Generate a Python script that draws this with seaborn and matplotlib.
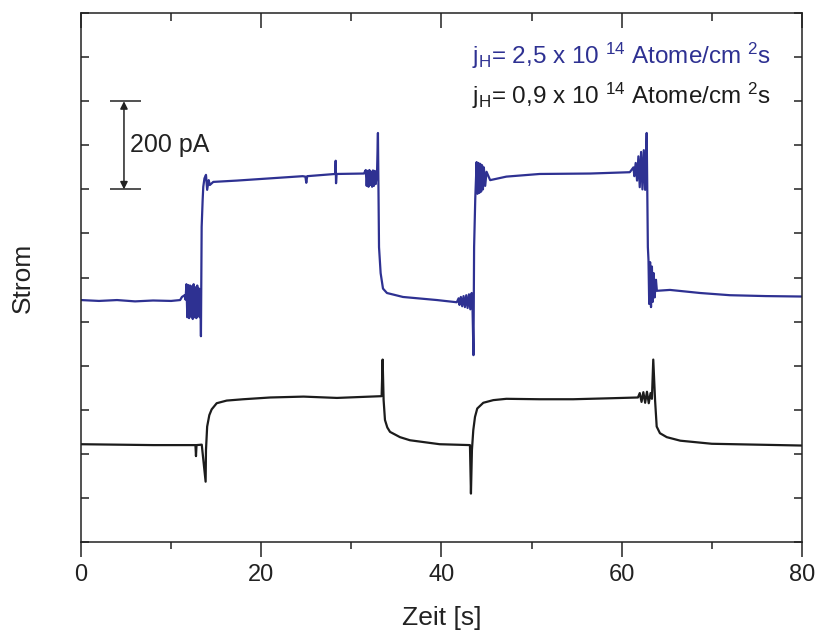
import matplotlib
matplotlib.use("Agg")
import matplotlib.pyplot as plt
from matplotlib.ticker import MultipleLocator
import numpy as np
import pandas as pd
import seaborn as sns

# ---- measured current traces (time in s, current in pA) ----
t_high = [0.0, 2.0, 4.0, 6.0, 8.0, 10.0, 11.0, 11.2, 11.5, 11.6,
          11.7, 11.8, 11.9, 12.0, 12.1, 12.2, 12.3, 12.4, 12.5, 12.6,
          12.7, 12.8, 12.9, 13.0, 13.1, 13.2, 13.28,
          13.31, 13.39, 13.5, 13.57, 13.7, 13.87, 14.0, 14.17, 14.3, 14.68,
          17.3, 21.0, 24.6, 24.9, 25.0, 25.1, 28.2, 28.26, 28.3, 28.36, 31.4,
          31.6, 31.7, 31.8, 31.9, 32.0, 32.1, 32.2, 32.3, 32.4, 32.5, 32.6,
          32.7, 32.85,
          32.95, 33.07, 33.25, 33.51, 33.95, 35.73, 39.5, 41.7,
          41.9, 42.0, 42.15, 42.3, 42.45, 42.6, 42.75, 42.9, 43.05, 43.2,
          43.35, 43.45,
          43.55, 43.62, 43.75, 43.9, 44.0, 44.1, 44.2, 44.3, 44.4, 44.5,
          44.6, 44.7, 44.85, 45.0, 45.4, 47.2, 50.9, 56.5, 60.9,
          61.3, 61.4, 61.55, 61.7, 61.85, 62.0, 62.15, 62.3, 62.45, 62.6, 62.7,
          62.77, 62.9,
          62.97, 63.05, 63.15, 63.25, 63.35, 63.45, 63.55, 63.65, 63.8, 63.9,
          65.35, 68.7, 72.0, 76.0, 80.0]
i_high = [549, 547, 549, 546, 548, 547, 549, 556, 560, 550,
          585, 510, 583, 508, 582, 512, 580, 506, 585, 510,
          578, 508, 582, 512, 575, 510, 520,
          467, 715, 776, 806, 825, 833, 799, 821, 810, 817,
          820, 825, 830, 829, 815, 830, 835, 865, 814, 835, 836,
          844, 808, 842, 806, 844, 810, 840, 806, 843, 808, 842,
          812, 838,
          928, 669, 610, 575, 565, 556, 549, 544,
          553, 538, 556, 535, 558, 533, 560, 531, 562, 528,
          565, 526,
          424, 669, 780, 862, 790, 860, 792, 858, 795, 855,
          800, 850, 808, 840, 821, 829, 835, 836, 839,
          850, 830, 860, 820, 875, 805, 885, 800, 889, 799, 880,
          928, 669,
          640, 540, 635, 533, 625, 545, 610, 555, 595, 570,
          572, 565, 560, 558, 557]

t_low = [0.0, 4.0, 8.0, 12.7, 12.76, 12.82, 13.4,
         13.83, 13.87, 14.0, 14.24, 14.5, 15.06, 16.17, 18.0, 21.0, 24.7,
         28.4, 32.1, 33.36,
         33.47, 33.58, 33.73, 33.99, 34.29, 35.4, 36.5, 39.8, 43.16,
         43.27, 43.38, 43.53, 43.72, 43.97, 44.64, 45.75, 47.2, 50.9, 54.6,
         58.3, 61.8,
         62.0, 62.2, 62.4, 62.6, 62.8, 63.0, 63.2, 63.35,
         63.5, 63.7, 63.88, 64.24, 65.0, 66.5, 70.0, 75.0, 80.0]
i_low = [222, 221, 220, 220, 195, 220, 221,
         137, 209, 262, 288, 301, 315, 321, 324, 328, 330,
         327, 330, 331,
         414, 322, 277, 260, 250, 238, 231, 222, 220,
         110, 209, 254, 284, 303, 316, 322, 325, 324, 324,
         326, 328,
         338, 318, 340, 316, 341, 315, 338, 325,
         414, 322, 262, 247, 238, 230, 223, 221, 219]

series_names = ["2,5", "0,9"]
series_colors = ["#2e3192", "#1c1c1c"]

x_ticks = [0, 20, 40, 60, 80]
y_ticks = list(range(0, 1201, 100))

df = pd.concat([
    pd.DataFrame({"Zeit": t_high, "Strom": i_high, "Fluss": series_names[0]}),
    pd.DataFrame({"Zeit": t_low, "Strom": i_low, "Fluss": series_names[1]}),
], ignore_index=True)

sns.set_theme(style="ticks")
plt.rcParams["font.family"] = ["Liberation Sans", "DejaVu Sans"]
plt.rcParams["mathtext.fontset"] = "custom"
plt.rcParams["mathtext.rm"] = "Liberation Sans"
plt.rcParams["mathtext.it"] = "Liberation Sans"
plt.rcParams["mathtext.bf"] = "Liberation Sans"
ink = "#222222"

fig = plt.figure(figsize=(8.18, 6.37), dpi=100)
ax = fig.add_axes([0.099, 0.149, 0.8814, 0.8305])

sns.lineplot(data=df, x="Zeit", y="Strom", hue="Fluss",
             palette=dict(zip(series_names, series_colors)),
             sort=False, estimator=None, legend=False, lw=1.6, ax=ax)

ax.set_xlim(0, 80)
ax.set_ylim(0, 1200)

# frame and ticks
for sp in ax.spines.values():
    sp.set_color(ink)
    sp.set_linewidth(1.1)
ax.set_xticks(x_ticks)
ax.xaxis.set_minor_locator(MultipleLocator(10))
ax.set_yticks(y_ticks)
ax.set_yticklabels([])
ax.tick_params(axis="x", which="major", direction="out", length=11, width=1.1,
               color=ink, labelsize=17, labelcolor=ink, pad=5)
ax.tick_params(axis="x", which="minor", direction="out", length=5, width=1.1,
               color=ink)
ax.tick_params(axis="y", which="major", direction="in", length=6, width=1.1,
               color=ink, left=True, right=True)

top = ax.secondary_xaxis("top")
top.set_xticks(x_ticks)
top.xaxis.set_minor_locator(MultipleLocator(10))
top.tick_params(axis="x", which="major", direction="in", length=11, width=1.1,
                color=ink, labeltop=False)
top.tick_params(axis="x", which="minor", direction="in", length=6, width=1.1,
                color=ink)
top.spines["top"].set_visible(False)

ax.set_xlabel("Zeit [s]", fontsize=19, color=ink, labelpad=14)
ax.set_ylabel("Strom", fontsize=19, color=ink, labelpad=30)

# 200 pA scale bar
ax.hlines([800, 1000], 3.2, 6.66, color=ink, lw=1.1)
ax.annotate("", xy=(4.77, 800), xytext=(4.77, 1000),
            arrowprops=dict(arrowstyle="<|-|>", color=ink, lw=1.1,
                            mutation_scale=11, shrinkA=0, shrinkB=0))
ax.text(5.4, 900, "200 pA", fontsize=18, color=ink, va="center", ha="left")

# flux annotations
ax.text(43.4, 1084,
        r"j$_\mathregular{H}$= 2,5 x 10 ${}^\mathregular{14}$ Atome/cm ${}^\mathregular{2}$s",
        fontsize=17.5, color=series_colors[0], va="baseline", ha="left")
ax.text(43.4, 994,
        r"j$_\mathregular{H}$= 0,9 x 10 ${}^\mathregular{14}$ Atome/cm ${}^\mathregular{2}$s",
        fontsize=17.5, color=series_colors[1], va="baseline", ha="left")

fig.savefig("out.png", dpi=100)
